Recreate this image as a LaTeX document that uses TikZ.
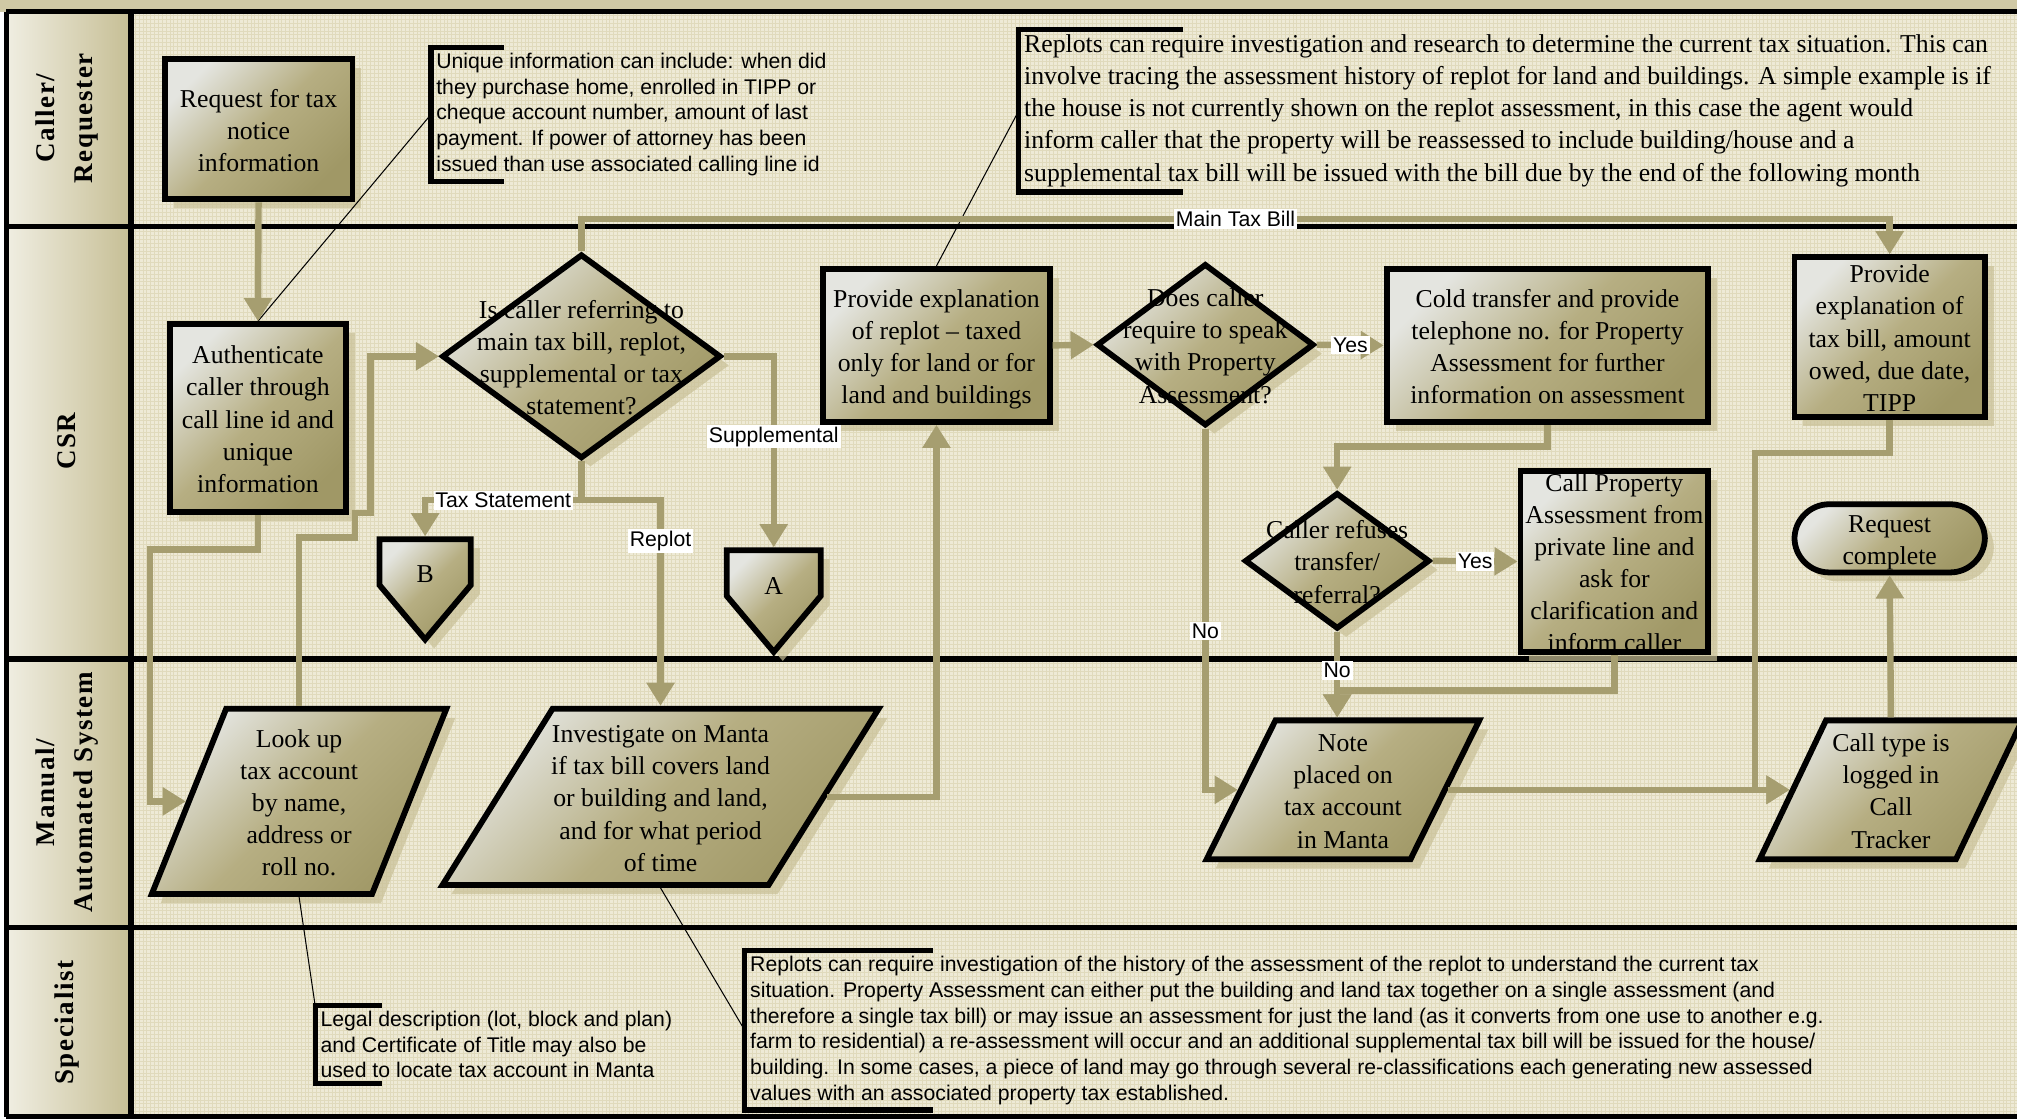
\documentclass[tikz,border=0pt]{standalone}
\usepackage{fontspec}
\setmainfont{Liberation Serif}
\newfontfamily\notefont{Liberation Sans}
\newfontfamily\lanefont[LetterSpace=6]{Liberation Serif}
\usetikzlibrary{arrows.meta,shapes.geometric,shapes.symbols,shadows,patterns}
\definecolor{stripbg}{RGB}{208,201,165}
\definecolor{lanebg}{RGB}{238,234,214}
\definecolor{lanegrid}{RGB}{224,218,188}
\definecolor{labelleft}{RGB}{240,238,226}
\definecolor{labelright}{RGB}{198,190,148}
\definecolor{flowcol}{RGB}{166,158,112}
\definecolor{boxlight}{RGB}{228,229,224}
\definecolor{boxmid}{RGB}{182,174,130}
\definecolor{boxdark}{RGB}{160,152,102}
\definecolor{shadowcol}{RGB}{200,192,150}
\tikzset{
  laneline/.style={line width=4.5pt},
  lanename/.style={rotate=90, align=center, font=\lanefont\bfseries\fontsize{21}{29}\selectfont},
  fillshape/.style={draw, line width=4.5pt, top color=boxlight, bottom color=boxdark, middle color=boxmid, shading angle=45, drop shadow={shadow xshift=7pt, shadow yshift=-7pt, fill=shadowcol, opacity=.7}, inner sep=0pt, font=\fontsize{20}{25}\selectfont},
  procbox/.style={fillshape, rectangle},
  endbox/.style={fillshape, rectangle, rounded corners=27pt},
  decision/.style={fillshape, diamond},
  iobox/.style={fillshape, trapezium, trapezium left angle=63, trapezium right angle=117, trapezium stretches=true, inner sep=2pt},
  offpage/.style={fillshape, signal, signal to=south, signal pointer angle=80, inner sep=2pt},
  flowarrow/.style={draw=flowcol, line width=5pt, -{Triangle[width=21pt,length=18pt]}},
  flowlabel/.style={fill=white, inner sep=1.5pt, font=\notefont\fontsize{16.5}{20}\selectfont},
  note/.style={anchor=west, align=left, inner xsep=4pt, inner ysep=4pt, font=\notefont\fontsize{16.5}{20}\selectfont},
  bignote/.style={note, font=\fontsize{20}{25}\selectfont},
  bracketline/.style={line width=4pt},
  callout/.style={line width=.8pt}
}
\begin{document}
\begin{tikzpicture}[x=1pt,y=-1pt]
\def\stack#1#2{\smash{\raisebox{#2}{\makebox[0pt]{\begin{tabular}{@{}c@{}}#1\end{tabular}}}}}
\def\bracket#1#2{\draw[bracketline] ([xshift=#2]#1.north west) -- (#1.north west) -- (#1.south west) -- ([xshift=#2]#1.south west);}
\def\lane#1#2#3#4{
\draw[laneline] (5,#2) -- (1568,#2);
\node[lanename] (#1) at (52,#3) {#4};
}
\useasboundingbox (0,0) rectangle (1568,870);
\fill[stripbg] (0,0) rectangle (1568,9);
\fill[lanebg] (102,9) rectangle (1568,868);
\fill[pattern=grid, pattern color=lanegrid] (102,9) rectangle (1568,868);
\shade[left color=labelleft, right color=labelright] (5,9) rectangle (102,868);
\lane{caller}{9}{92}{Caller/\\Requester}
\lane{csr}{176}{343}{CSR}
\lane{manual}{512}{616}{Manual/\\Automated System}
\lane{specialist}{721}{795}{Specialist}
\draw[laneline] (5,868) -- (1568,868);
\draw[laneline] (5,9) -- (5,868);
\draw[laneline] (102,9) -- (102,868);
\node[procbox, minimum width=146pt, minimum height=109pt] (request) at (201,100.5) {\stack{Request for tax\\notice\\information}{-8pt}};
\node[procbox, minimum width=137pt, minimum height=146pt] (auth) at (200.5,325) {\stack{Authenticate\\caller through\\call line id and\\unique\\information}{-8pt}};
\node[decision, minimum width=217pt, minimum height=159pt] (d1) at (452,277) {\stack{Is caller referring to\\main tax bill, replot,\\supplemental or tax\\statement?}{-8pt}};
\node[offpage, minimum width=71pt, minimum height=38pt] (b) at (330.5,437) {\stack{B}{-16pt}};
\node[offpage, minimum width=73pt, minimum height=38pt] (a) at (601.5,445.5) {\stack{A}{-17pt}};
\node[procbox, minimum width=176pt, minimum height=119pt] (replot) at (728,268.5) {\stack{Provide explanation\\of replot -- taxed\\only for land or for\\land and buildings}{-8pt}};
\node[decision, minimum width=169pt, minimum height=126pt] (d2) at (937,268) {\stack{Does caller\\require to speak\\with Property\\Assessment?}{-8pt}};
\node[procbox, minimum width=250pt, minimum height=119pt] (cold) at (1203,268.5) {\stack{Cold transfer and provide\\telephone no. for Property\\Assessment for further\\information on assessment}{-8pt}};
\node[decision, minimum width=144pt, minimum height=106pt] (d3) at (1039.5,436) {\stack{Caller refuses\\transfer/\\referral?}{-8pt}};
\node[procbox, minimum width=146pt, minimum height=141pt] (callp) at (1255,436.5) {\stack{Call Property\\Assessment from\\private line and\\ask for\\clarification and\\inform caller}{-8pt}};
\node[procbox, minimum width=148pt, minimum height=124pt] (prov) at (1469,262) {\stack{Provide\\explanation of\\tax bill, amount\\owed, due date,\\TIPP}{-8pt}};
\node[endbox, minimum width=148pt, minimum height=53pt] (done) at (1469,418.5) {\stack{Request\\complete}{-8pt}};
\node[iobox, minimum width=229pt, minimum height=144pt] (look) at (232.5,623) {\stack{Look up\\tax account\\by name,\\address or\\roll no.}{-8pt}};
\node[iobox, minimum width=339pt, minimum height=137pt] (inv) at (513.5,619.5) {\stack{Investigate on Manta\\if tax bill covers land\\or building and land,\\and for what period\\of time}{-8pt}};
\node[iobox, minimum width=212pt, minimum height=108pt] (note) at (1044,614) {\stack{Note\\placed on\\tax account\\in Manta}{-8pt}};
\node[iobox, minimum width=204pt, minimum height=108pt] (track) at (1470,614) {\stack{Call type is\\logged in\\Call\\Tracker}{-8pt}};
\node[note] (unique) at (335,89) {Unique information can include: when did\\they purchase home, enrolled in TIPP or\\cheque account number, amount of last\\payment. If power of attorney has been\\issued than use associated calling line id};
\bracket{unique}{57pt}
\node[bignote] (replotnote) at (792,86) {Replots can require investigation and research to determine the current tax situation. This can\\involve tracing the assessment history of replot for land and buildings. A simple example is if\\the house is not currently shown on the replot assessment, in this case the agent would\\inform caller that the property will be reassessed to include building/house and a\\supplemental tax bill will be issued with the bill due by the end of the following month};
\bracket{replotnote}{128pt}
\node[note] (historynote) at (579,801) {Replots can require investigation of the history of the assessment of the replot to understand the current tax\\situation. Property Assessment can either put the building and land tax together on a single assessment (and\\therefore a single tax bill) or may issue an assessment for just the land (as it converts from one use to another e.g.\\farm to residential) a re-assessment will occur and an additional supplemental tax bill will be issued for the house/\\building. In some cases, a piece of land may go through several re-classifications each generating new assessed\\values with an associated property tax established.};
\bracket{historynote}{146pt}
\node[note] (legalnote) at (245,812) {Legal description (lot, block and plan)\\and Certificate of Title may also be\\used to locate tax account in Manta};
\bracket{legalnote}{52pt}
\draw[callout] (unique.west) -- (auth.north);
\draw[callout] (replotnote.west) -- (replot.north);
\draw[callout] (inv.center |- inv.south) -- (historynote.west);
\draw[callout] (look.center |- look.south) -- (legalnote.north west);
\draw[flowarrow] (request.south) -- (auth.north);
\draw[flowarrow] (auth.south) -- ++(0,27) -| ([xshift=-28pt]look.west) -- (look.west);
\draw[flowarrow] (look.center |- look.north) |- (276,418) |- (288,399) |- (d1.west);
\draw[flowarrow] (d1.north) -- ++(0,-25) -| node[flowlabel, pos=.25] {Main Tax Bill} (prov.north);
\draw[flowarrow] (d1.south) -- ++(0,30) -| node[flowlabel, pos=.25] {Tax Statement} (b.north);
\draw[flowarrow] (d1.south) -- ++(0,30) -| node[flowlabel, pos=.6] {Replot} (inv.center |- inv.north);
\draw[flowarrow] (d1.east) -| node[flowlabel, pos=.71] {Supplemental} (a.north);
\draw[flowarrow] (inv.east) -| (replot.south);
\draw[flowarrow] (replot.east) -- (d2.west);
\draw[flowarrow] (d2.east) -- node[flowlabel] {Yes} (cold.west);
\draw[flowarrow] (d2.south) |- node[flowlabel, pos=.28] {No} (note.west);
\draw[flowarrow] (cold.south) -- ++(0,17) -| (d3.north);
\draw[flowarrow] (d3.east) -- node[flowlabel] {Yes} (callp.west);
\draw[flowarrow] (d3.south) -- node[flowlabel, pos=.45] {No} (d3.south |- note.north);
\draw[flowarrow] (callp.south) |- ([yshift=21pt]d3.south |- note.north) -- (d3.south |- note.north);
\draw[flowarrow] (note.east) -- (track.west);
\draw[flowarrow] (prov.south) -- ++(0,26) -| ([xshift=-27pt]track.west) -- (track.west);
\draw[flowarrow] (track.center |- track.north) -- (done.south);
\end{tikzpicture}
\end{document}
